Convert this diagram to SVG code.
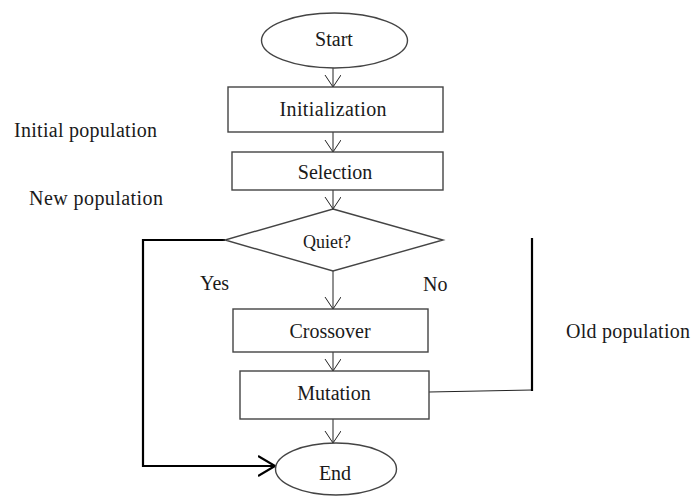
<svg xmlns="http://www.w3.org/2000/svg" width="691" height="497" viewBox="0 0 691 497">
<style>
.shape{fill:#fff;stroke:#444;stroke-width:1.4}
text{font-family:'Liberation Serif','Times New Roman','DejaVu Serif',serif;font-size:20px;fill:#1a1a1a}
.c{text-anchor:middle}
.thin{fill:none;stroke:#222;stroke-width:1}
.thick{fill:none;stroke:#000;stroke-width:2.2}
</style>
<defs>
<marker id="arr" markerWidth="20" markerHeight="20" refX="12" refY="8" orient="auto" markerUnits="userSpaceOnUse">
<path d="M0,0 L12,8 L0,16" fill="none" stroke="#222" stroke-width="1"/>
</marker>
<marker id="arrB" markerWidth="26" markerHeight="26" refX="17" refY="11" orient="auto" markerUnits="userSpaceOnUse">
<path d="M0,1 L17,11 L0,21" fill="none" stroke="#000" stroke-width="2.2"/>
</marker>
</defs>
<rect width="691" height="497" fill="#fff"/>
<g id="connectors">
<line class="thin" x1="333" y1="68" x2="333" y2="87" marker-end="url(#arr)"/>
<line class="thin" x1="333" y1="132" x2="333" y2="152" marker-end="url(#arr)"/>
<line class="thin" x1="333" y1="190" x2="333" y2="209" marker-end="url(#arr)"/>
<line class="thin" x1="333" y1="271" x2="333" y2="309" marker-end="url(#arr)"/>
<line class="thin" x1="333" y1="352" x2="333" y2="371" marker-end="url(#arr)"/>
<line class="thin" x1="333" y1="419" x2="333" y2="443" marker-end="url(#arr)"/>
<polyline class="thick" points="225,240 143,240 143,466 275,466" marker-end="url(#arrB)"/>
<line class="thin" x1="429" y1="392" x2="532" y2="390"/>
<line class="thick" x1="532" y1="238" x2="532" y2="391"/>
</g>
<g id="start">
<ellipse class="shape" cx="334.5" cy="40.5" rx="73" ry="27.5"/>
<text class="c" x="334" y="46">Start</text>
</g>
<g id="initialization">
<rect class="shape" x="228" y="87" width="215" height="45"/>
<text class="c" x="333" y="116" textLength="107">Initialization</text>
</g>
<g id="selection">
<rect class="shape" x="232" y="152" width="211" height="38"/>
<text class="c" x="335" y="179">Selection</text>
</g>
<g id="quiet">
<polygon class="shape" points="333,209 443,240 333,271 225,240"/>
<text class="c" x="327" y="248" style="font-size:18px">Quiet?</text>
</g>
<g id="crossover">
<rect class="shape" x="233" y="309" width="195" height="43"/>
<text class="c" x="330" y="338">Crossover</text>
</g>
<g id="mutation">
<rect class="shape" x="240" y="371" width="189" height="48"/>
<text class="c" x="334" y="400">Mutation</text>
</g>
<g id="end">
<ellipse class="shape" cx="336" cy="469" rx="60.5" ry="26"/>
<text class="c" x="335" y="480">End</text>
</g>
<g id="labels">
<text x="14" y="137" textLength="143">Initial population</text>
<text x="29" y="205" textLength="134">New population</text>
<text x="200" y="290">Yes</text>
<text x="423" y="291">No</text>
<text x="566" y="338" textLength="124">Old population</text>
</g>
</svg>
